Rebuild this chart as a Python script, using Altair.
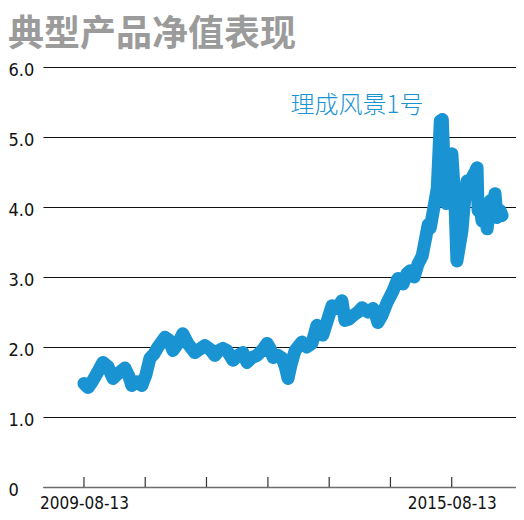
import altair as alt
import pandas as pd

# Net value series
dates = [
    "2009-08-13", "2009-09-06", "2009-09-30", "2009-10-29", "2009-12-04", "2010-01-03",
    "2010-02-02", "2010-03-03", "2010-04-14", "2010-05-08", "2010-05-25", "2010-06-24",
    "2010-07-24", "2010-08-17", "2010-09-10", "2010-10-04", "2010-10-28", "2010-12-09",
    "2011-01-01", "2011-01-25", "2011-02-24", "2011-03-25", "2011-04-24", "2011-06-04",
    "2011-07-04", "2011-08-03", "2011-09-02", "2011-10-02", "2011-10-26", "2011-11-19",
    "2011-12-13", "2012-01-18", "2012-02-17", "2012-03-17", "2012-04-10", "2012-05-10",
    "2012-06-09", "2012-07-09", "2012-08-08", "2012-08-26", "2012-09-13", "2012-10-12",
    "2012-11-06", "2012-11-24", "2012-12-11", "2012-12-29", "2013-01-22", "2013-03-03",
    "2013-04-02", "2013-05-02", "2013-06-01", "2013-06-19", "2013-07-06", "2013-08-05",
    "2013-08-30", "2013-09-29", "2013-10-28", "2013-11-15", "2013-12-09", "2014-01-02",
    "2014-02-01", "2014-02-25", "2014-04-01", "2014-05-01", "2014-05-18", "2014-05-30",
    "2014-06-23", "2014-07-23", "2014-08-28", "2014-09-27", "2014-10-27", "2014-11-20",
    "2014-12-08", "2015-01-01", "2015-01-25", "2015-02-18", "2015-03-08", "2015-03-26",
    "2015-04-07", "2015-04-25", "2015-05-07", "2015-05-19", "2015-05-31", "2015-06-06",
    "2015-06-18", "2015-06-30", "2015-07-12", "2015-07-24", "2015-08-05", "2015-08-14",
    "2015-08-26", "2015-09-01", "2015-09-13", "2015-09-25", "2015-10-13", "2015-10-25",
    "2015-11-12", "2015-11-30", "2015-12-12", "2015-12-30", "2016-01-11", "2016-01-17",
    "2016-01-29", "2016-02-10", "2016-02-28", "2016-03-11", "2016-03-29", "2016-04-15",
    "2016-04-27", "2016-05-09", "2016-05-27", "2016-06-08",
]
values = [
    1.48, 1.42, 1.50, 1.62, 1.78, 1.72,
    1.55, 1.62, 1.70, 1.58, 1.45, 1.50,
    1.45, 1.60, 1.84, 1.90, 2.00, 2.14,
    2.10, 1.95, 2.05, 2.19, 2.05, 1.92,
    1.97, 2.02, 1.97, 1.88, 1.95, 1.98,
    1.95, 1.81, 1.88, 1.92, 1.78, 1.85,
    1.88, 1.95, 2.05, 1.98, 1.85, 1.88,
    1.84, 1.72, 1.55, 1.75, 1.95, 2.07,
    2.00, 2.05, 2.31, 2.25, 2.17, 2.40,
    2.59, 2.55, 2.66, 2.38, 2.40, 2.45,
    2.50, 2.56, 2.50, 2.55, 2.45, 2.35,
    2.45, 2.63, 2.80, 2.98, 2.90, 3.05,
    3.09, 3.00, 3.19, 3.30, 3.52, 3.75,
    3.70, 3.94, 4.10, 4.27, 4.90, 5.23,
    5.25, 4.50, 4.05, 4.40, 4.70, 4.76,
    4.30, 4.09, 3.23, 3.40, 3.66, 4.00,
    4.37, 4.30, 4.42, 4.50, 4.56, 3.95,
    4.00, 3.80, 3.90, 3.69, 4.09, 4.00,
    4.19, 3.85, 3.95, 3.88,
]

tick_dates = ["2009-08-13", "2010-08-13", "2011-08-13", "2012-08-13",
              "2013-08-13", "2014-08-13", "2015-08-13"]
label_dates = ["2009-08-13", "2015-08-13"]
y_ticks = [0, 1, 2, 3, 4, 5, 6]
series_name = "理成风景1号"
label_pos_date = "2014-01-26"
label_pos_value = 5.45

BLUE = "#1a93d3"
LABEL_FONT = "DejaVu Sans Condensed, Liberation Sans Narrow, Roboto, sans-serif"

df = pd.DataFrame({"date": dates, "value": values})
ticks_df = pd.DataFrame({"date": tick_dates})
ann_df = pd.DataFrame({"date": [label_pos_date], "value": [label_pos_value], "label": [series_name]})

x_scale = alt.Scale(type="utc", domain=["2008-12-12", "2016-08-30"])
y_scale = alt.Scale(domain=[0, 6])

def dt(s):
    y, m, d = (int(p) for p in s.split("-"))
    return alt.DateTime(year=y, month=m, date=d, utc=True)

x_axis = alt.Axis(
    values=[dt(s) for s in label_dates],
    labelExpr="utcFormat(datum.value, '%Y-%m-%d')",
    ticks=False, grid=False, domainColor="#6e6e6e", domainWidth=1.5,
    labelFont=LABEL_FONT, labelFontSize=17, labelColor="#111111",
    labelPadding=8, title=None, labelFlush=False,
)
y_axis = alt.Axis(
    values=y_ticks, labelExpr="datum.value == 0 ? '0' : format(datum.value, '.1f')",
    ticks=False, domain=False, grid=True, gridColor="#111111", gridWidth=1.2,
    labelFont=LABEL_FONT, labelFontSize=18, labelColor="#111111",
    labelAlign="left", labelPadding=35, labelBaseline="middle", labelOffset=3, title=None,
)

line = alt.Chart(df).mark_line(
    color=BLUE, strokeWidth=13, strokeCap="round", strokeJoin="round"
).encode(
    x=alt.X("date:T", scale=x_scale, axis=x_axis),
    y=alt.Y("value:Q", scale=y_scale, axis=y_axis),
)

ticks = alt.Chart(ticks_df).mark_rule(color="#333333", strokeWidth=1.2).encode(
    x=alt.X("date:T", scale=x_scale),
    y=alt.value(420),
    y2=alt.value(410),
)

ann = alt.Chart(ann_df).mark_text(
    color=BLUE, fontSize=24, font="Noto Sans CJK SC", fontWeight=300, align="center", baseline="middle"
).encode(
    x=alt.X("date:T", scale=x_scale),
    y=alt.Y("value:Q", scale=y_scale),
    text="label:N",
)

chart = alt.layer(ticks, line, ann).properties(
    width=473, height=420,
    title=alt.TitleParams(
        text="典型产品净值表现", anchor="start", frame="bounds",
        font="Noto Sans CJK SC", fontSize=36, fontWeight="bold", color="#9b9b9b", offset=7,
    ),
    autosize=alt.AutoSizeParams(type="none"),
    padding={"left": 35, "top": 59, "right": 0, "bottom": 24},
).configure_view(stroke=None)

chart.save("out.html", embed_options={"renderer": "svg", "actions": False})
